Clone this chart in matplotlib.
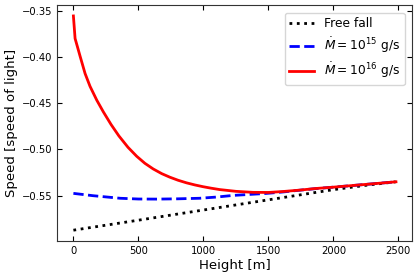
import matplotlib
matplotlib.use("Agg")
import matplotlib.pyplot as plt

# Free fall reference
free_h = [0, 500, 1000, 1500, 2000, 2250, 2480]
free_v = [-0.5873, -0.5765, -0.5655, -0.5545, -0.5435, -0.5388, -0.5350]

# Mdot = 1e15 g/s
low_h = [0, 150, 360, 500, 640, 800, 970, 1100, 1230, 1480, 1612, 1740,
         1868, 2000, 2124, 2300, 2482]
low_v = [-0.5475, -0.5500, -0.5528, -0.5536, -0.5537, -0.5534, -0.5528,
         -0.5515, -0.5497, -0.5476, -0.5460, -0.5441, -0.5423, -0.5408,
         -0.5393, -0.5372, -0.5350]

# Mdot = 1e16 g/s
high_h = [0, 13, 31, 51, 90, 128, 180, 230, 290, 350, 420, 487, 550, 614,
          680, 742, 805, 870, 935, 998, 1060, 1126, 1250, 1382, 1500, 1612,
          1740, 1868, 2000, 2124, 2300, 2482]
high_v = [-0.3557, -0.3801, -0.3890, -0.3990, -0.4180, -0.4318, -0.4468,
          -0.4593, -0.4731, -0.4854, -0.4977, -0.5074, -0.5150, -0.5211,
          -0.5262, -0.5300, -0.5333, -0.5361, -0.5384, -0.5403, -0.5419,
          -0.5434, -0.5453, -0.5464, -0.5465, -0.5455, -0.5440, -0.5422,
          -0.5408, -0.5393, -0.5372, -0.5350]

fig = plt.figure(figsize=(4.15, 2.75), dpi=100)
ax = fig.add_axes([0.138, 0.124, 0.855, 0.857])

ax.plot(free_h, free_v, color="black", linestyle=":", linewidth=2.0,
        label="Free fall")
ax.plot(low_h, low_v, color="blue", linestyle="--", linewidth=2.0,
        label=r"$\dot{M} = 10^{15}$ g/s")
ax.plot(high_h, high_v, color="red", linestyle="-", linewidth=2.0,
        label=r"$\dot{M} = 10^{16}$ g/s")

ax.set_xticks([0, 500, 1000, 1500, 2000, 2500])
ax.set_yticks([-0.55, -0.50, -0.45, -0.40, -0.35])
ax.tick_params(direction="in", top=True, right=True, labelsize=7.2,
               length=3.5, width=0.8)
ax.set_xlabel("Height [m]", fontsize=9.5, labelpad=2)
ax.set_ylabel("Speed [speed of light]", fontsize=9.5, labelpad=3)
for side in ax.spines.values():
    side.set_color("#333333")

ax.legend(loc="upper right", fontsize=8.8, handlelength=2.0,
          borderaxespad=0.6, labelspacing=0.45)

fig.savefig("out.png", dpi=100)
